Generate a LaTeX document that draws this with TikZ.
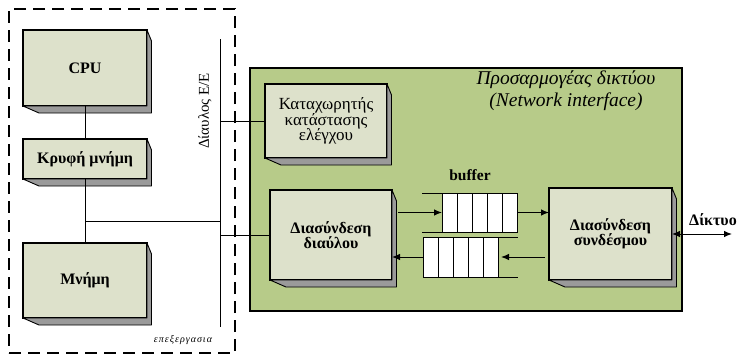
\documentclass[tikz,border=0pt]{standalone}
\usepackage{fontspec}
\usepackage{graphicx}
\setmainfont{Liberation Serif}
\usetikzlibrary{arrows.meta,calc}
\definecolor{boxfill}{HTML}{DDE1CB}
\definecolor{nicgreen}{HTML}{B7CB89}
\definecolor{shadegrey}{HTML}{9A9A9A}
\tikzset{
  box3d/.style={draw=black, line width=1.1pt, fill=boxfill, rectangle, inner sep=2pt, outer sep=0pt, align=center, font=\fontsize{16}{15.5}\selectfont\bfseries},
  shade3d/.style={draw=black, line width=0.9pt, fill=shadegrey, line join=round},
  conn/.style={line width=1pt},
  arr/.style={line width=1pt, -{Latex[length=8pt,width=6.5pt]}},
  darr/.style={line width=1pt, {Latex[length=8pt,width=6.5pt]}-{Latex[length=8pt,width=6.5pt]}},
  bufbox/.style={draw=black, fill=white, line width=1pt, rectangle, inner sep=0pt, outer sep=0pt},
  plain/.style={inner sep=0pt, outer sep=0pt}
}
\newcommand\boxshade[1]{\draw[shade3d] (#1.north east) -- ++(4.5,11) |- ([shift={(16,7)}]#1.south west) -- (#1.south west) -- (#1.south east) -- cycle;}
\begin{document}
\begin{tikzpicture}[x=1pt,y=-1pt]
\useasboundingbox (0,0) rectangle (740,356);
% processing area
\node[draw=black, line width=1.2pt, dash pattern=on 12pt off 7pt, rectangle, minimum width=226, minimum height=344, inner sep=0pt, outer sep=0pt] (proc) at (122,181) {};
\node[plain, font=\fontsize{10}{10}\selectfont\itshape\addfontfeature{LetterSpace=10}] (proclabel) at (183,340) {επεξεργασια};
% network interface area
\node[draw=black, line width=1.2pt, fill=nicgreen, rectangle, minimum width=432, minimum height=243, inner sep=0pt, outer sep=0pt] (nic) at (466,189.5) {};
\node[plain, align=center, font=\fontsize{19.5}{22}\selectfont\itshape] (nictitle) at (566,91) {Προσαρμογέας δικτύου\\(Network interface)};
% left boxes
\node[box3d, minimum width=124, minimum height=76] (cpu) at (85,68) {CPU};
\boxshade{cpu}
\node[box3d, minimum width=124, minimum height=40] (cache) at (85,159) {Κρυφή μνήμη};
\boxshade{cache}
\node[box3d, minimum width=124, minimum height=75] (mem) at (85,280.5) {Μνήμη};
\boxshade{mem}
% bus
\coordinate (bustop) at (220,39);
\coordinate (busbot) at (220,327);
\node[plain, font=\fontsize{15}{15}\selectfont] (buslabel) at (205,111) {\rotatebox{90}{Δίαυλος Ε/Ε}};
% NIC boxes
\node[box3d, minimum width=122, minimum height=74, font=\fontsize{17}{15.8}\selectfont] (reg) at (326,121) {Καταχωρητής\\κατάστασης\\ελέγχου};
\boxshade{reg}
\node[box3d, minimum width=122, minimum height=90] (busif) at (331,235) {Διασύνδεση\\διαύλου};
\boxshade{busif}
\node[box3d, minimum width=123, minimum height=92] (link) at (610.5,234) {Διασύνδεση\\συνδέσμου};
\boxshade{link}
% buffers
\node[plain, font=\fontsize{15.5}{15}\selectfont\bfseries] (buflabel) at (470,175) {buffer};
\node[bufbox, minimum width=75, minimum height=39] (bufin) at (479.5,212.5) {};
\foreach \i in {1,...,4} \draw[conn] ($(bufin.north west)+(15*\i,0)$) -- ($(bufin.south west)+(15*\i,0)$);
\draw[conn] (bufin.north west) -- ++(-20,0);
\draw[conn] (bufin.south west) -- ++(-20,0);
\node[bufbox, minimum width=75, minimum height=40] (bufout) at (460.5,257) {};
\foreach \i in {1,...,4} \draw[conn] ($(bufout.north west)+(15*\i,0)$) -- ($(bufout.south west)+(15*\i,0)$);
\draw[conn] (bufout.north east) -- ++(20,0);
\draw[conn] (bufout.south east) -- ++(20,0);
% connectors
\draw[conn] (cpu) -- (cache);
\draw[conn] (cache) -- (mem);
\draw[conn] (bustop) -- (busbot);
\draw[conn] (cache.south |- 0,221) -- (bustop |- 0,221);
\draw[conn] (bustop |- reg.west) -- (reg.west);
\draw[conn] (bustop |- busif.west) -- (busif.west);
\draw[arr] ([xshift=6]busif.east |- bufin.west) -- (bufin.west);
\draw[arr] (bufin.east) -- (link.west |- bufin.east);
\draw[arr] ([xshift=-4]link.west |- bufout.east) -- ([xshift=3]bufout.east);
\draw[arr] (bufout.west) -- (busif.east |- bufout.west);
% network
\coordinate (netend) at (732,234);
\draw[darr] (link.east) -- (netend);
\node[plain, font=\fontsize{16}{15}\selectfont\bfseries] (netlabel) at (713,220) {Δίκτυο};
\end{tikzpicture}
\end{document}
